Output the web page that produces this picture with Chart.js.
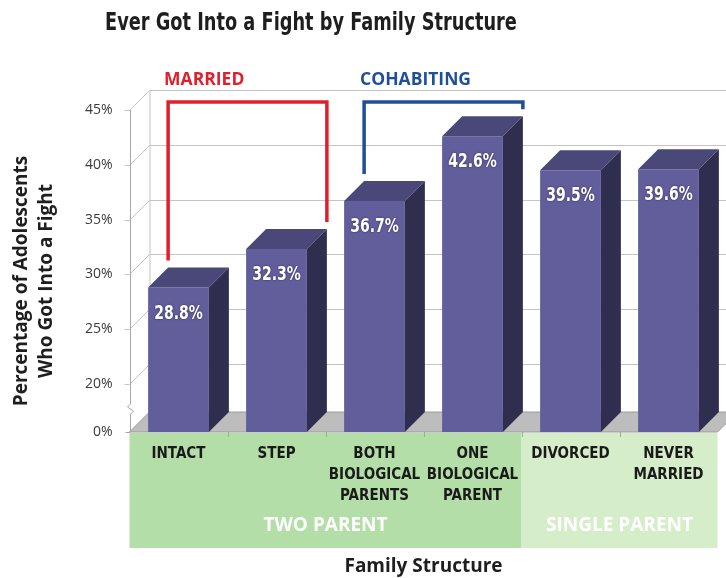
<!DOCTYPE html>
<html>
<head>
<meta charset="utf-8">
<title>Ever Got Into a Fight by Family Structure</title>
<script src="https://cdn.jsdelivr.net/npm/chart.js@4.4.1/dist/chart.umd.min.js"></script>
<style>
  html, body { margin: 0; padding: 0; background: #fff; }
  #wrap { width: 726px; height: 578px; position: relative; }
</style>
</head>
<body>
<div id="wrap"><canvas id="fightChart"></canvas></div>
<script>
// chart data
const categories = [['INTACT'], ['STEP'], ['BOTH', 'BIOLOGICAL', 'PARENTS'], ['ONE', 'BIOLOGICAL', 'PARENT'], ['DIVORCED'], ['NEVER', 'MARRIED']];
const fightShares = [28.8, 32.3, 36.7, 42.6, 39.5, 39.6];
const tickValues = [20, 25, 30, 35, 40, 45];
const axisFloor = 15.6; // bottom of the broken axis, labelled 0%
const groupLabels = ['TWO PARENT', 'SINGLE PARENT'];
const groupSpans = [[0, 3], [4, 5]];
const bracketLabels = ['MARRIED', 'COHABITING'];
const bracketSpans = [[0, 1], [2, 3]];

const DEPTH = 20;
const NARROW = '"DejaVu Sans Condensed", "DejaVu Sans", sans-serif';
const SANS = '"Open Sans", "Noto Sans", sans-serif';

// squeezed text, to get close to the condensed face of the original
function squeezeText(ctx, text, x, y, sx) {
    ctx.save();
    ctx.translate(x, y);
    ctx.scale(sx, 1);
    ctx.fillText(text, 0, 0);
    ctx.restore();
}

// green bands, floor and the back wall, drawn before the axes
const backdropPlugin = {
    id: 'backdrop',
    beforeDraw(chart) {
        const ctx = chart.ctx;
        const area = chart.chartArea;
        const x = chart.scales.x;
        const y = chart.scales.y;
        const step = (area.right - area.left) / categories.length;
        const bandColors = ['#b3dea7', '#d5edc9'];

        ctx.save();
        groupSpans.forEach((span, i) => {
            const x0 = x.getPixelForValue(span[0]) - step / 2;
            const x1 = x.getPixelForValue(span[1]) + step / 2;
            ctx.fillStyle = bandColors[i];
            ctx.fillRect(x0, area.bottom + 1, x1 - x0, 115);
        });

        // small ticks between categories
        ctx.strokeStyle = '#8fb886';
        ctx.lineWidth = 1;
        for (let i = 1; i < categories.length; i++) {
            const px = Math.round(area.left + step * i) + 0.5;
            ctx.beginPath();
            ctx.moveTo(px, area.bottom);
            ctx.lineTo(px, area.bottom + 5);
            ctx.stroke();
        }

        // floor
        ctx.fillStyle = '#bdbdbd';
        ctx.strokeStyle = '#9a9a9a';
        ctx.beginPath();
        ctx.moveTo(area.left, area.bottom);
        ctx.lineTo(area.right, area.bottom);
        ctx.lineTo(area.right + DEPTH, area.bottom - DEPTH);
        ctx.lineTo(area.left + DEPTH, area.bottom - DEPTH);
        ctx.closePath();
        ctx.fill();
        ctx.stroke();

        // back wall grid
        ctx.strokeStyle = '#c4c4c4';
        ctx.lineWidth = 1;
        tickValues.forEach(v => {
            const py = Math.round(y.getPixelForValue(v)) + 0.5;
            ctx.beginPath();
            ctx.moveTo(area.left - 5, py);
            ctx.lineTo(area.left, py);
            ctx.lineTo(area.left + DEPTH, py - DEPTH);
            ctx.lineTo(area.right + DEPTH, py - DEPTH);
            ctx.stroke();
        });
        ctx.beginPath();
        ctx.moveTo(area.left + DEPTH + 0.5, area.top - DEPTH);
        ctx.lineTo(area.left + DEPTH + 0.5, area.bottom - DEPTH);
        ctx.stroke();

        // front axis with a break near the bottom
        const lx = Math.round(area.left) + 0.5;
        const brk = area.bottom - 24;
        ctx.strokeStyle = '#a8a8a8';
        ctx.beginPath();
        ctx.moveTo(lx, area.top);
        ctx.lineTo(lx, brk - 4);
        ctx.lineTo(lx - 3, brk - 1);
        ctx.lineTo(lx + 3, brk + 3);
        ctx.lineTo(lx, brk + 6);
        ctx.lineTo(lx, area.bottom);
        ctx.stroke();
        ctx.beginPath();
        ctx.moveTo(lx - 5, area.bottom + 0.5);
        ctx.lineTo(lx, area.bottom + 0.5);
        ctx.stroke();

        // chart title
        ctx.fillStyle = '#1e1e1e';
        ctx.font = 'bold 25px ' + NARROW;
        ctx.textAlign = 'left';
        ctx.textBaseline = 'middle';
        squeezeText(ctx, 'Ever Got Into a Fight by Family Structure', 105, 23, 0.79);

        // y axis title
        ctx.save();
        ctx.translate(22, 281);
        ctx.rotate(-Math.PI / 2);
        ctx.font = 'bold 19px ' + SANS;
        ctx.textAlign = 'center';
        ctx.fillText('Percentage of Adolescents', 0, 0);
        ctx.fillText('Who Got Into a Fight', 0, 25);
        ctx.restore();

        // band captions
        ctx.fillStyle = '#ffffff';
        ctx.font = 'bold 19px ' + SANS;
        ctx.textAlign = 'center';
        groupSpans.forEach((span, i) => {
            const x0 = x.getPixelForValue(span[0]) - step / 2;
            const x1 = x.getPixelForValue(span[1]) + step / 2;
            ctx.fillText(groupLabels[i], (x0 + x1) / 2, area.bottom + 94);
        });
        ctx.restore();
    }
};

// 3D faces, value labels and the brackets
const boxPlugin = {
    id: 'boxes',
    afterDatasetsDraw(chart) {
        const ctx = chart.ctx;
        const area = chart.chartArea;
        const bars = chart.getDatasetMeta(0).data;

        ctx.save();
        bars.forEach((bar, i) => {
            const L = bar.x - bar.width / 2;
            const R = bar.x + bar.width / 2;
            const T = bar.y;
            const B = Math.min(bar.base, area.bottom);

            ctx.fillStyle = '#4a4878';
            ctx.beginPath();
            ctx.moveTo(L, T);
            ctx.lineTo(R, T);
            ctx.lineTo(R + DEPTH, T - DEPTH);
            ctx.lineTo(L + DEPTH, T - DEPTH);
            ctx.closePath();
            ctx.fill();

            ctx.fillStyle = '#302e4f';
            ctx.beginPath();
            ctx.moveTo(R, T);
            ctx.lineTo(R + DEPTH, T - DEPTH);
            ctx.lineTo(R + DEPTH, B - DEPTH);
            ctx.lineTo(R, B);
            ctx.closePath();
            ctx.fill();

            ctx.save();
            ctx.fillStyle = '#ffffff';
            ctx.shadowColor = 'rgba(20, 18, 50, 0.7)';
            ctx.shadowBlur = 2;
            ctx.font = 'bold 20px ' + NARROW;
            ctx.textAlign = 'center';
            ctx.textBaseline = 'middle';
            squeezeText(ctx, fightShares[i].toFixed(1) + '%', bar.x, T + 26, 0.78);
            ctx.restore();
        });

        const bracketColors = ['#e11f2b', '#1f4f98'];
        const topY = area.top - 8;
        bracketSpans.forEach((span, i) => {
            const a = bars[span[0]];
            const b = bars[span[1]];
            const x0 = a.x - a.width / 2 + DEPTH;
            const x1 = b.x + b.width / 2 + DEPTH;
            ctx.strokeStyle = bracketColors[i];
            ctx.lineWidth = 3.5;
            ctx.beginPath();
            ctx.moveTo(x0, a.y - DEPTH - 7);
            ctx.lineTo(x0, topY);
            ctx.lineTo(x1, topY);
            ctx.lineTo(x1, b.y - DEPTH - 7);
            ctx.stroke();

            ctx.fillStyle = bracketColors[i];
            ctx.font = 'bold 17.5px ' + SANS;
            ctx.textAlign = 'left';
            ctx.textBaseline = 'middle';
            ctx.fillText(bracketLabels[i], x0 - 4, 80);
        });
        ctx.restore();
    }
};

const ctx = document.getElementById('fightChart').getContext('2d');
const fightChart = new Chart(ctx, {
    type: 'bar',
    data: {
        labels: categories,
        datasets: [{
            label: 'Ever got into a fight',
            data: fightShares,
            backgroundColor: '#615e9b',
            borderWidth: 0,
            categoryPercentage: 1,
            barPercentage: 0.62
        }]
    },
    options: {
        responsive: true,
        maintainAspectRatio: false,
        animation: false,
        layout: { padding: { top: 110, right: 8.5, left: 0, bottom: 0 } },
        plugins: {
            legend: { display: false },
            title: { display: false },
            tooltip: { enabled: false }
        },
        scales: {
            x: {
                grid: { display: false },
                border: { display: false },
                ticks: {
                    color: '#1a1a1a',
                    font: { family: NARROW, size: 15, weight: 'bold', lineHeight: 1.4 },
                    padding: 4,
                    maxRotation: 0,
                    autoSkip: false
                },
                title: {
                    display: true,
                    text: 'Family Structure',
                    color: '#1e1e1e',
                    font: { family: SANS, size: 19, weight: 'bold' },
                    padding: { top: 0, bottom: 0 }
                },
                afterFit(scale) { scale.height = 146; }
            },
            y: {
                min: axisFloor,
                max: 45,
                grid: { display: false },
                border: { display: false },
                afterBuildTicks(scale) {
                    scale.ticks = [axisFloor].concat(tickValues).map(v => ({ value: v }));
                },
                ticks: {
                    color: '#3a3a3a',
                    font: { family: SANS, size: 14 },
                    padding: 9,
                    callback: v => v === axisFloor ? '0%' : v + '%'
                },
                afterFit(scale) { scale.width = 129.5; }
            }
        }
    },
    plugins: [backdropPlugin, boxPlugin]
});
</script>
</body>
</html>
